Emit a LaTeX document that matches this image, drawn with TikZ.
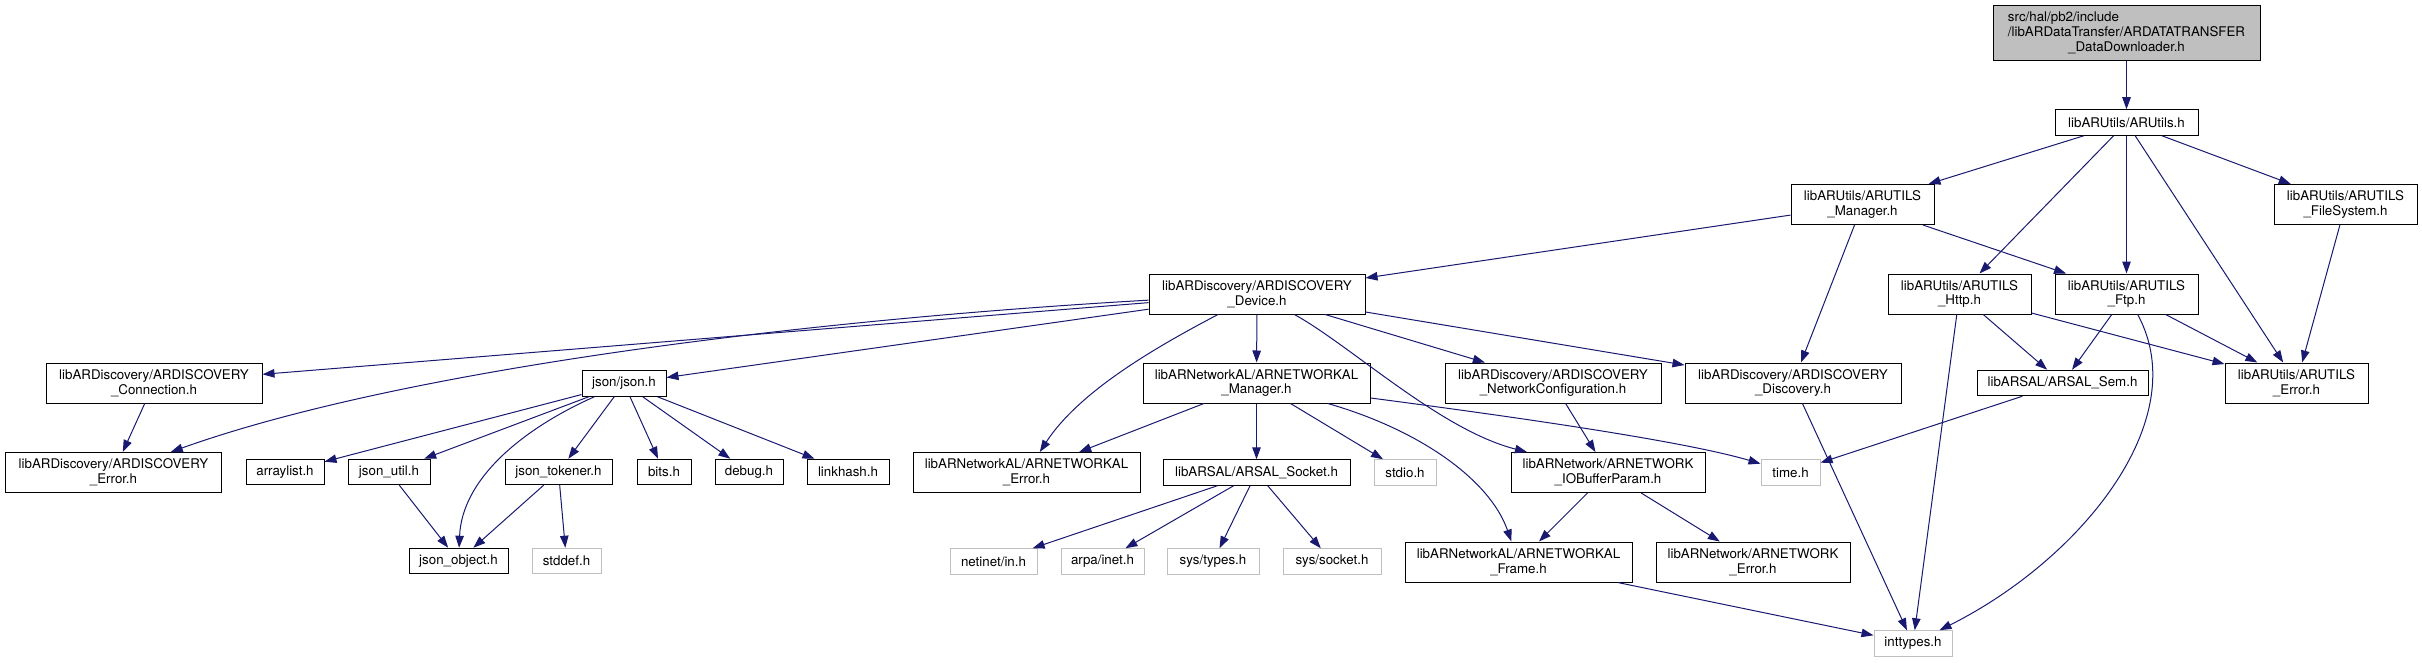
\documentclass[tikz,border=0pt]{standalone}
\usepackage{fontspec}
\setmainfont{TeX Gyre Heros}
\usepackage{tikz}
\usetikzlibrary{arrows.meta}
\definecolor{edgeblue}{RGB}{25,25,112}
\definecolor{grey75}{RGB}{191,191,191}

\begin{document}
\begin{tikzpicture}[x=1pt, y=-1pt,
		hfile/.style={draw=black, fill=white, line width=1pt, inner sep=0pt, align=center,
			font=\fontsize{13.33}{14.7}\selectfont, minimum height=40pt},
		onel/.style={hfile, minimum height=25.5pt},
		sysfile/.style={onel, draw=grey75},
		incl/.style={-{Triangle[length=12pt, width=8.5pt]}, line width=1pt, draw=edgeblue}
	]
		\useasboundingbox (0,0) rectangle (2422,663);
		\node[hfile, minimum width=267pt, minimum height=55pt, fill=grey75] (root) at (2126.5,33.5)
			{\begin{tabular}{@{}l@{}}src/hal/pb2/include\\/libARDataTransfer/ARDATATRANSFER\\\multicolumn{1}{@{}c@{}}{\_DataDownloader.h}\end{tabular}};
		\node[onel, minimum width=143pt] (arutils) at (2126.5,122.5) {libARUtils/ARUtils.h};
		\node[hfile, minimum width=143pt] (utmgr) at (1862.5,204.5) {libARUtils/ARUTILS\\\_Manager.h};
		\node[hfile, minimum width=143pt] (utfs) at (2345.5,204.5) {libARUtils/ARUTILS\\\_FileSystem.h};
		\node[hfile, minimum width=216pt] (device) at (1257,294) {libARDiscovery/ARDISCOVERY\\\_Device.h};
		\node[hfile, minimum width=143pt] (uthttp) at (1959.5,294) {libARUtils/ARUTILS\\\_Http.h};
		\node[hfile, minimum width=143pt] (utftp) at (2126.5,294) {libARUtils/ARUTILS\\\_Ftp.h};
		\node[hfile, minimum width=216pt] (dconn) at (154,383) {libARDiscovery/ARDISCOVERY\\\_Connection.h};
		\node[onel, minimum width=84pt] (json) at (624,383.5) {json/json.h};
		\node[hfile, minimum width=227pt] (nalmgr) at (1256.5,383) {libARNetworkAL/ARNETWORKAL\\\_Manager.h};
		\node[hfile, minimum width=216pt] (dnetconf) at (1553,383) {libARDiscovery/ARDISCOVERY\\\_NetworkConfiguration.h};
		\node[hfile, minimum width=216pt] (ddisc) at (1793,383) {libARDiscovery/ARDISCOVERY\\\_Discovery.h};
		\node[onel, minimum width=171pt] (sem) at (2062.5,383) {libARSAL/ARSAL\_Sem.h};
		\node[hfile, minimum width=143pt] (uterr) at (2296.5,383) {libARUtils/ARUTILS\\\_Error.h};
		\node[hfile, minimum width=216pt] (derr) at (113.5,472.5) {libARDiscovery/ARDISCOVERY\\\_Error.h};
		\node[onel, minimum width=78pt] (arraylist) at (285,472) {arraylist.h};
		\node[onel, minimum width=82pt] (jutil) at (389,472) {json\_util.h};
		\node[onel, minimum width=107pt] (jtok) at (558.5,472) {json\_tokener.h};
		\node[onel, minimum width=54pt] (bits) at (664,472) {bits.h};
		\node[onel, minimum width=68pt] (debug) at (749,472) {debug.h};
		\node[onel, minimum width=82pt] (linkhash) at (848,472) {linkhash.h};
		\node[hfile, minimum width=227pt] (nalerr) at (1026.5,472.5) {libARNetworkAL/ARNETWORKAL\\\_Error.h};
		\node[onel, minimum width=187pt] (socket) at (1256.5,472.5) {libARSAL/ARSAL\_Socket.h};
		\node[sysfile, minimum width=62pt] (stdio) at (1405,472.5) {stdio.h};
		\node[hfile, minimum width=194pt] (iobuf) at (1608,472.5) {libARNetwork/ARNETWORK\\\_IOBufferParam.h};
		\node[sysfile, minimum width=59pt] (timeh) at (1790.5,472.5) {time.h};
		\node[onel, minimum width=99pt] (jobj) at (458.5,561) {json\_object.h};
		\node[sysfile, minimum width=69pt] (stddef) at (566.5,561) {stddef.h};
		\node[sysfile, minimum width=87pt] (netinet) at (993.5,561.5) {netinet/in.h};
		\node[sysfile, minimum width=83pt] (arpa) at (1102.5,561.5) {arpa/inet.h};
		\node[sysfile, minimum width=92pt] (systypes) at (1213,561.5) {sys/types.h};
		\node[sysfile, minimum width=98pt] (syssocket) at (1332,561.5) {sys/socket.h};
		\node[hfile, minimum width=227pt] (nalframe) at (1518.5,562) {libARNetworkAL/ARNETWORKAL\\\_Frame.h};
		\node[hfile, minimum width=194pt] (neterr) at (1753,562) {libARNetwork/ARNETWORK\\\_Error.h};
		\node[sysfile, minimum width=78pt] (inttypes) at (1913,643.5) {inttypes.h};
		\foreach \a/\b in {root/arutils, arutils/utmgr, arutils/uthttp, arutils/utftp, arutils/uterr,
			arutils/utfs, utmgr/device, utmgr/ddisc, utmgr/utftp, utfs/uterr, uthttp/sem, uthttp/uterr,
			uthttp/inttypes, utftp/sem, utftp/uterr, device/dconn, device/json, device/nalmgr,
			device/dnetconf, device/ddisc, dconn/derr, json/arraylist, json/jutil, json/jtok, json/bits,
			json/debug, json/linkhash, jutil/jobj, jtok/jobj, jtok/stddef, nalmgr/nalerr, nalmgr/socket,
			nalmgr/stdio, dnetconf/iobuf, ddisc/inttypes, sem/timeh, socket/netinet, socket/arpa,
			socket/systypes, socket/syssocket, iobuf/nalframe, iobuf/neterr, nalframe/inttypes}
			\draw[incl] (\a) -- (\b);
		\draw[incl] (device) .. controls (800,320) and (400,370) .. (derr);
		\draw[incl] (device) .. controls (1160,345) and (1080,390) .. (nalerr);
		\draw[incl] (device) .. controls (1350,345) and (1440,430) .. (iobuf);
		\draw[incl] (nalmgr) .. controls (1420,430) and (1490,480) .. (nalframe);
		\draw[incl] (nalmgr) .. controls (1500,415) and (1680,440) .. (timeh);
		\draw[incl] (json) .. controls (520,430) and (462,480) .. (jobj);
		\draw[incl] (utftp) .. controls (2195,420) and (2080,560) .. (inttypes);
	\end{tikzpicture}
\end{document}
